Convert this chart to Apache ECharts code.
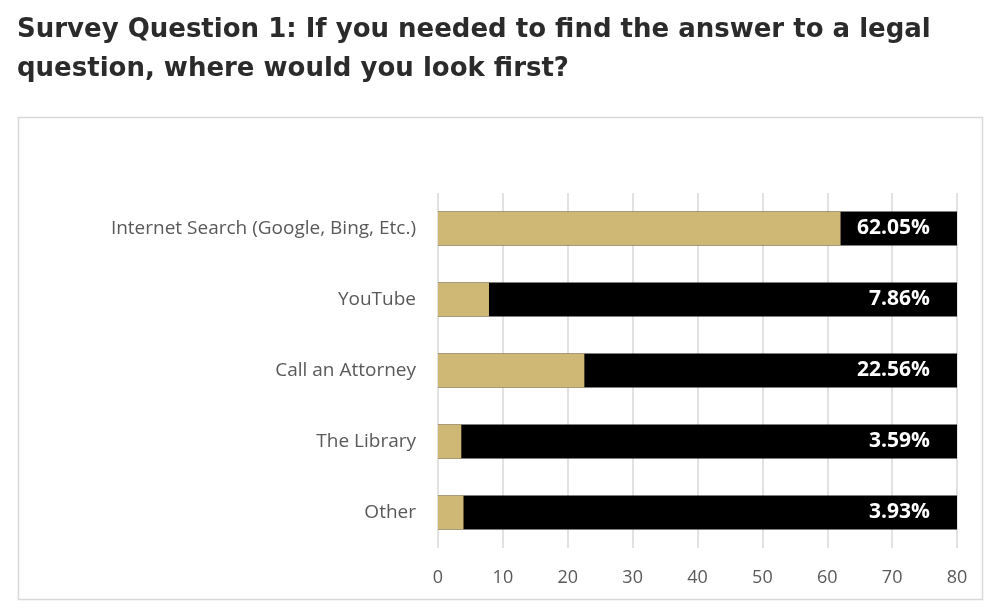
<!DOCTYPE html>
<html>
<head>
    <meta charset="utf-8">
    <title>Survey Question 1</title>
    <script src="https://cdn.jsdelivr.net/npm/echarts@6/dist/echarts.min.js"></script>
    <style>
        html, body { margin: 0; padding: 0; background: #fff; }
        #chart { width: 1000px; height: 613px; }
    </style>
</head>
<body>
    <div id="chart"></div>
    <script type="text/javascript">
        // survey answers, top to bottom as in the picture
        var categories = ['Internet Search (Google, Bing, Etc.)', 'YouTube', 'Call an Attorney', 'The Library', 'Other'];
        var percents = [62.05, 7.86, 22.56, 3.59, 3.93];
        // black track behind each bar runs to the axis max
        var trackValues = [80, 80, 80, 80, 80];
        var axisTicks = [0, 10, 20, 30, 40, 50, 60, 70, 80];

        var myChart = echarts.init(document.getElementById('chart'));
        var option = {
            animation: false,
            title: {
                text: 'Survey Question 1: If you needed to find the answer to a legal\nquestion, where would you look first?',
                left: 12,
                top: 6,
                textStyle: {
                    fontFamily: 'DejaVu Sans',
                    fontWeight: 700,
                    fontSize: 26,
                    lineHeight: 39,
                    color: '#2b2b2b'
                }
            },
            graphic: [{
                type: 'rect',
                shape: { x: 18.5, y: 117.5, width: 964, height: 482 },
                style: { fill: 'none', stroke: '#d9d9d9', lineWidth: 1.5 },
                z: -1
            }],
            grid: { left: 438, right: 43, top: 193, bottom: 65 },
            xAxis: {
                type: 'value',
                min: axisTicks[0],
                max: axisTicks[axisTicks.length - 1],
                interval: 10,
                axisLine: { show: false },
                axisTick: { show: false },
                splitLine: { lineStyle: { color: '#d9d9d9', width: 1.5 } },
                axisLabel: {
                    color: '#595959',
                    fontFamily: 'Open Sans',
                    fontSize: 18,
                    margin: 21
                }
            },
            yAxis: {
                type: 'category',
                inverse: true,
                data: categories,
                axisLine: { show: false },
                axisTick: { show: false },
                axisLabel: {
                    color: '#595959',
                    fontFamily: 'Open Sans',
                    fontSize: 19,
                    margin: 22
                }
            },
            series: [{
                name: 'track',
                type: 'bar',
                data: trackValues,
                barWidth: 34,
                barGap: '-100%',
                itemStyle: { color: '#000000' },
                label: {
                    show: true,
                    position: 'insideRight',
                    distance: 27,
                    color: '#ffffff',
                    fontFamily: 'Open Sans',
                    fontWeight: 700,
                    fontSize: 21,
                    formatter: function (p) { return percents[p.dataIndex].toFixed(2) + '%'; }
                },
                z: 2
            }, {
                name: 'percent',
                type: 'bar',
                data: percents,
                barWidth: 34,
                barGap: '-100%',
                itemStyle: { color: '#cfb776' },
                z: 3
            }]
        };
        myChart.setOption(option);
    </script>
</body>
</html>
